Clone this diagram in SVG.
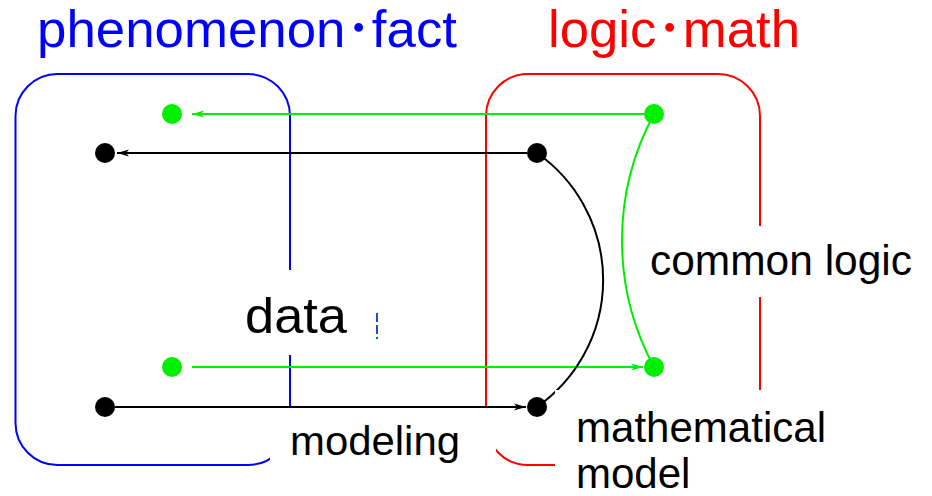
<svg xmlns="http://www.w3.org/2000/svg" width="932" height="496" viewBox="0 0 932 496">
<style>
text{font-family:"Liberation Sans","Noto Sans CJK JP",sans-serif;fill:#000}
.box{fill:none;stroke-width:2}
.g{stroke:#00ee00;stroke-width:2;fill:none}
.k{stroke:#000;stroke-width:2;fill:none}
.dg{fill:#00ee00}
.dk{fill:#000}
.mask{fill:#fff}
</style>
<defs>
<marker id="ag" markerWidth="12" markerHeight="8" refX="12" refY="4" orient="auto" markerUnits="userSpaceOnUse"><path d="M0,0.5 L12,4 L0,7.5 L3,4 z" fill="#00ee00"/></marker>
<marker id="ak" markerWidth="12" markerHeight="8" refX="12" refY="4" orient="auto" markerUnits="userSpaceOnUse"><path d="M0,0.5 L12,4 L0,7.5 L3,4 z" fill="#000"/></marker>
</defs>
<rect width="932" height="496" fill="#fff"/>
<g id="box-phenomenon">
<rect class="box" x="15.5" y="74" width="274.5" height="391" rx="42" ry="42" stroke="#0000ff"/>
</g>
<g id="box-logic">
<rect class="box" x="486" y="74" width="274" height="391" rx="42" ry="42" stroke="#ff0000"/>
</g>
<g id="connectors">
<line class="g" x1="644" y1="114" x2="192" y2="114" marker-end="url(#ag)"/>
<line class="k" x1="527" y1="153" x2="117" y2="153" marker-end="url(#ak)"/>
<line class="g" x1="192" y1="367" x2="643" y2="367" marker-end="url(#ag)"/>
<line class="k" x1="115" y1="407" x2="526" y2="407" marker-end="url(#ak)"/>
<path class="k" d="M537,153 A155,155 0 0 1 537,407" stroke-width="2.5"/>
<path class="g" d="M654,114 A266,266 0 0 0 654,367"/>
</g>
<g id="node-fact-top"><circle class="dg" cx="172" cy="114" r="10"/></g>
<g id="node-fact-a"><circle class="dk" cx="105" cy="153" r="10"/></g>
<g id="node-fact-bottom"><circle class="dg" cx="172" cy="367" r="10"/></g>
<g id="node-fact-b"><circle class="dk" cx="105" cy="407" r="10"/></g>
<g id="node-logic-top"><circle class="dg" cx="654" cy="114" r="10"/></g>
<g id="node-math-a"><circle class="dk" cx="537" cy="153" r="10"/></g>
<g id="node-logic-bottom"><circle class="dg" cx="654" cy="367" r="10"/></g>
<g id="node-math-b"><circle class="dk" cx="537" cy="407" r="10"/></g>
<g id="labels">
<rect class="mask" x="240" y="270" width="134" height="85"/>
<rect class="mask" x="270" y="408" width="226" height="70"/>
<rect class="mask" x="555" y="390" width="377" height="106"/>
<rect class="mask" x="640" y="226" width="285" height="71"/>
<line x1="377" y1="313" x2="377" y2="339" stroke="#1a4fd0" stroke-width="2" stroke-dasharray="9,3"/>
<text x="37" y="47" font-size="52" style="fill:#0000ff" textLength="420" lengthAdjust="spacingAndGlyphs">phenomenon･fact</text>
<text x="548" y="47" font-size="52" style="fill:#ff0000" textLength="252" lengthAdjust="spacingAndGlyphs">logic･math</text>
<text x="245" y="333" font-size="50" textLength="102" lengthAdjust="spacingAndGlyphs">data</text>
<text x="290" y="455" font-size="40" textLength="170" lengthAdjust="spacingAndGlyphs">modeling</text>
<text x="650" y="275" font-size="42" textLength="262" lengthAdjust="spacingAndGlyphs">common logic</text>
<text x="576" y="442" font-size="42" textLength="250" lengthAdjust="spacingAndGlyphs">mathematical</text>
<text x="576" y="488" font-size="42">model</text>
</g>
</svg>
